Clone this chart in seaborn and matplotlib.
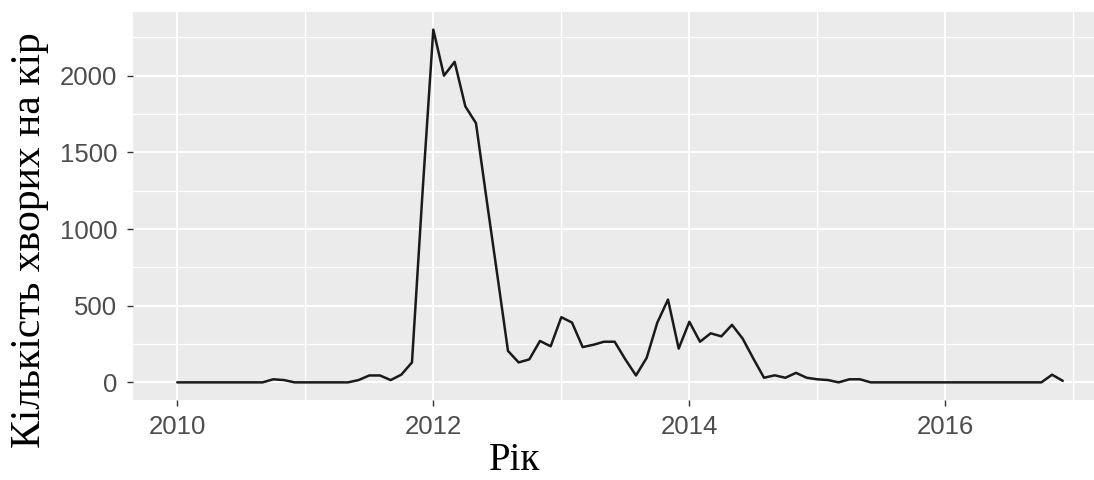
import numpy as np
import pandas as pd
import seaborn as sns
import matplotlib
matplotlib.use("Agg")
import matplotlib.pyplot as plt
from matplotlib.ticker import MultipleLocator

# Monthly measles case counts, January 2010 - December 2016
years = [2010, 2011, 2012, 2013, 2014, 2015, 2016]
cases_2010 = [0, 0, 0, 0, 0, 0, 0, 0, 0, 20, 15, 0]
cases_2011 = [0, 0, 0, 0, 0, 15, 45, 45, 15, 50, 130, 1250]
cases_2012 = [2300, 2000, 2090, 1800, 1690, 1190, 700, 205, 130, 150, 270, 235]
cases_2013 = [425, 390, 230, 245, 265, 265, 150, 45, 160, 390, 540, 220]
cases_2014 = [395, 265, 320, 300, 375, 285, 155, 30, 46, 30, 62, 30]
cases_2015 = [20, 15, 0, 20, 20, 0, 0, 0, 0, 0, 0, 0]
cases_2016 = [0, 0, 0, 0, 0, 0, 0, 0, 0, 0, 50, 10]

x_ticks = [2010, 2012, 2014, 2016]
y_ticks = [0, 500, 1000, 1500, 2000]
x_label = "Рік"
y_label = "Кількість хворих на кір"

series = [cases_2010, cases_2011, cases_2012, cases_2013,
          cases_2014, cases_2015, cases_2016]
rows = []
for yr, vals in zip(years, series):
    for month, v in enumerate(vals):
        rows.append({"date": yr + month / 12.0, "cases": v})
df = pd.DataFrame(rows)

sns.set_theme(style="darkgrid")
plt.rcParams["font.family"] = ["Liberation Sans", "DejaVu Sans"]

fig = plt.figure(figsize=(10.94, 4.80), dpi=100)
ax = fig.add_axes([133 / 1094, 1 - 400 / 480, (1107 - 133) / 1094, 388 / 480])
ax.set_facecolor("#EBEBEB")

sns.lineplot(data=df, x="date", y="cases", ax=ax, color="#1a1a1a",
             linewidth=1.8, estimator=None)

# ggplot-like 5% expansion on both axes
xmin, xmax = df["date"].min(), df["date"].max()
ymin, ymax = df["cases"].min(), df["cases"].max()
xpad = 0.05 * (xmax - xmin)
ypad = 0.05 * (ymax - ymin)
ax.set_xlim(xmin - xpad, xmax + xpad)
ax.set_ylim(ymin - ypad, ymax + ypad)

ax.set_xticks(x_ticks)
ax.set_yticks(y_ticks)
ax.xaxis.set_minor_locator(MultipleLocator(1))
ax.yaxis.set_minor_locator(MultipleLocator(250))
ax.grid(which="major", color="white", linewidth=1.5)
ax.grid(which="minor", color="white", linewidth=0.9)
ax.set_axisbelow(True)
for s in ax.spines.values():
    s.set_visible(False)

ax.tick_params(axis="both", which="major", length=4.5, width=1.0,
               color="#333333", labelcolor="#4D4D4D", labelsize=18.5,
               bottom=True, left=True)
ax.tick_params(axis="x", which="major", pad=6)
ax.tick_params(axis="y", which="major", pad=7)
ax.tick_params(axis="both", which="minor", length=0)
ax.set_xlabel("")
ax.set_ylabel("")

fig.text(30 / 1094, 1 - 240 / 480, y_label, rotation=90, ha="center",
         va="center", fontsize=30, family=["Liberation Serif", "DejaVu Serif"],
         color="black")
fig.text(515 / 1094, 1 - 470 / 480, x_label, ha="center", va="baseline",
         fontsize=28, family=["Liberation Serif", "DejaVu Serif"],
         color="black")

fig.savefig("out.png", dpi=100, facecolor="white")
